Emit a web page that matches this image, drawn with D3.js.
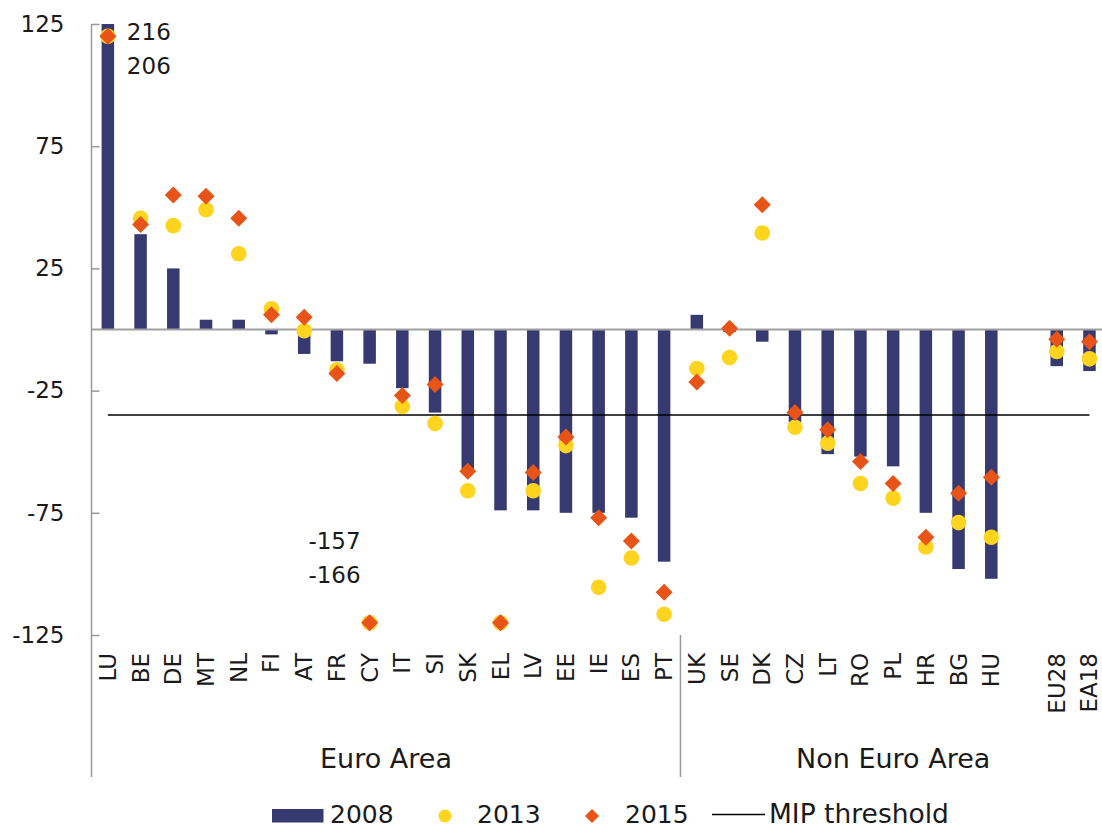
<!DOCTYPE html>
<html><head><meta charset="utf-8">
<script src="https://cdn.jsdelivr.net/npm/d3@7"></script>
<style>
html,body{margin:0;padding:0;background:#fff;}
svg{display:block;font-family:"DejaVu Sans",Verdana,sans-serif;}
</style></head>
<body><svg id="chart" width="1102" height="829"></svg>
<script>
// ---- data ----
const categories = ["LU","BE","DE","MT","NL","FI","AT","FR","CY","IT","SI","SK","EL","LV","EE","IE","ES","PT",
                    "UK","SE","DK","CZ","LT","RO","PL","HR","BG","HU","EU28","EA18"];
const euroArea = ["LU","BE","DE","MT","NL","FI","AT","FR","CY","IT","SI","SK","EL","LV","EE","IE","ES","PT"];
const nonEuroArea = ["UK","SE","DK","CZ","LT","RO","PL","HR","BG","HU","EU28","EA18"];
const aggregates = ["EU28","EA18"];
const values2008 = [130, 39, 25, 4, 4, -2, -10, -13, -14, -24, -34, -57, -74, -74, -75, -75, -77, -95,
                    6, -1, -5, -38, -51, -52, -56, -75, -98, -102, -15, -17];
const values2013 = [216, 45.5, 42.5, 49, 31, 8.5, -0.5, -16.5, -157, -31.5, -38.5, -66, -130, -66, -47.5, -105.5, -93.5, -116.5,
                    -16, -11.5, 39.5, -40, -46.5, -63, -69, -89, -79, -85, -9, -12];
const values2015 = [206, 43, 55, 54.5, 45.5, 6, 5, -18, -166, -27, -22.5, -58, -128, -58.5, -44, -77, -86.5, -107.5,
                    -21.5, 0.5, 51, -34, -41, -54, -63, -85, -67, -60.5, -4, -5];
const mipThreshold = -35;
const yTicks = [125, 75, 25, -25, -75, -125];
const annotated = ["LU","CY"];
const seriesNames = ["2008","2013","2015","MIP threshold"];

// ---- layout ----
const svg = d3.select("#chart");
const colBar = "#363a70", colCircle = "#ffd41f", colDiamond = "#e85318";
const axisX = 91.5;
const y = d3.scaleLinear().domain([-125, 125]).range([635, 24]);
const markerCap = 120;
const fmt = v => String(Math.round(v)); // plain hyphen-minus, as in the reference

// slots: euro area, non euro area, one blank slot, aggregates
const slotOf = {};
let s = 0;
categories.forEach(c => {
  if (c === aggregates[0]) s += 1;
  slotOf[c] = s++;
});
const x = d3.scaleBand().domain(d3.range(s)).range([axisX, axisX + s * 32.72]).paddingInner(0);
const cx = c => x(slotOf[c]) + x.bandwidth() / 2;

const rows = categories.map((c, i) => ({c, v08: values2008[i], v13: values2013[i], v15: values2015[i]}));

// bars (clipped to plot area)
const clip = v => Math.max(-125, Math.min(125, v));
const barW = 12.5;
svg.append("g").selectAll("rect").data(rows).join("rect")
  .attr("x", d => cx(d.c) - barW / 2)
  .attr("width", barW)
  .attr("y", d => y(Math.max(0, clip(d.v08))))
  .attr("height", d => Math.abs(y(clip(d.v08)) - y(0)))
  .attr("fill", colBar);

// zero line
svg.append("line").attr("x1", axisX).attr("x2", 1102).attr("y1", y(0)).attr("y2", y(0))
  .attr("stroke", "#a0a0a0").attr("stroke-width", 2);

// MIP threshold
svg.append("line").attr("x1", cx(categories[0])).attr("x2", cx(categories[categories.length - 1]))
  .attr("y1", y(mipThreshold)).attr("y2", y(mipThreshold))
  .attr("stroke", "#000").attr("stroke-width", 1.6);

// y axis
const yAxis = d3.axisLeft(y).tickValues(yTicks).tickSize(-8).tickPadding(27).tickFormat(fmt);
const gy = svg.append("g").attr("transform", `translate(${axisX},0)`).call(yAxis);
gy.select(".domain").remove();
gy.selectAll(".tick line").attr("stroke", "#999").attr("stroke-width", 1.5);
gy.selectAll(".tick text").attr("font-size", 23).attr("fill", "#1a1a1a")
  .attr("font-family", "DejaVu Sans, Verdana, sans-serif");
svg.append("line").attr("x1", axisX).attr("x2", axisX).attr("y1", y(125)).attr("y2", 777)
  .attr("stroke", "#999").attr("stroke-width", 1.5);

// separator between groups
const sepX = (cx(euroArea[euroArea.length - 1]) + cx(nonEuroArea[0])) / 2;
svg.append("line").attr("x1", sepX).attr("x2", sepX).attr("y1", y(-125)).attr("y2", 777)
  .attr("stroke", "#999").attr("stroke-width", 1.5);

// markers
const clampM = v => Math.max(-markerCap, Math.min(markerCap, v));
svg.append("g").selectAll("circle").data(rows).join("circle")
  .attr("cx", d => cx(d.c)).attr("cy", d => y(clampM(d.v13))).attr("r", 7.8)
  .attr("fill", colCircle);
const dia = h => `M0,${-h}L${h},0L0,${h}L${-h},0Z`;
svg.append("g").selectAll("path").data(rows).join("path")
  .attr("transform", d => `translate(${cx(d.c)},${y(clampM(d.v15))})`)
  .attr("d", dia(8.5)).attr("fill", colDiamond);

// out-of-range value labels
rows.filter(d => annotated.includes(d.c)).forEach(d => {
  const right = d.v13 > 0;
  const g = svg.append("g").attr("font-size", 23).attr("fill", "#1a1a1a")
    .attr("text-anchor", right ? "start" : "end");
  const tx = right ? cx(d.c) + 19 : cx(d.c) - 9;
  const ty0 = right ? 40 : 549;
  [d.v13, d.v15].forEach((v, k) => {
    g.append("text").attr("x", tx).attr("y", ty0 + k * 33.5).text(fmt(v));
  });
});

// category labels
svg.append("g").selectAll("text").data(categories).join("text")
  .attr("transform", c => `translate(${cx(c) + 8},653) rotate(-90)`)
  .attr("text-anchor", "end").attr("font-size", 23).attr("fill", "#1a1a1a").text(c => c);

// group labels
svg.append("text").attr("x", (cx(euroArea[0]) + cx(euroArea[euroArea.length - 1])) / 2).attr("y", 768)
  .attr("text-anchor", "middle").attr("font-size", 27).attr("fill", "#1a1a1a").text("Euro Area");
svg.append("text").attr("x", (cx(nonEuroArea[0]) + cx(nonEuroArea[nonEuroArea.length - 1])) / 2).attr("y", 768)
  .attr("text-anchor", "middle").attr("font-size", 27).attr("fill", "#1a1a1a").text("Non Euro Area");

// legend
const lg = svg.append("g").attr("font-size", 25).attr("fill", "#1a1a1a");
const ly = 823;
lg.append("rect").attr("x", 272).attr("y", ly - 14).attr("width", 51.5).attr("height", 13.5).attr("fill", colBar);
lg.append("text").attr("x", 330).attr("y", ly).text(seriesNames[0]);
lg.append("circle").attr("cx", 445).attr("cy", ly - 7).attr("r", 6.5).attr("fill", colCircle);
lg.append("text").attr("x", 477).attr("y", ly).text(seriesNames[1]);
lg.append("path").attr("transform", `translate(592,${ly - 7})`).attr("d", dia(7)).attr("fill", colDiamond);
lg.append("text").attr("x", 625).attr("y", ly).text(seriesNames[2]);
lg.append("line").attr("x1", 712).attr("x2", 765).attr("y1", ly - 8.5).attr("y2", ly - 8.5).attr("stroke", "#000").attr("stroke-width", 1.6);
lg.append("text").attr("x", 769).attr("y", ly).attr("font-size", 26.5).text(seriesNames[3]);
</script></body></html>
